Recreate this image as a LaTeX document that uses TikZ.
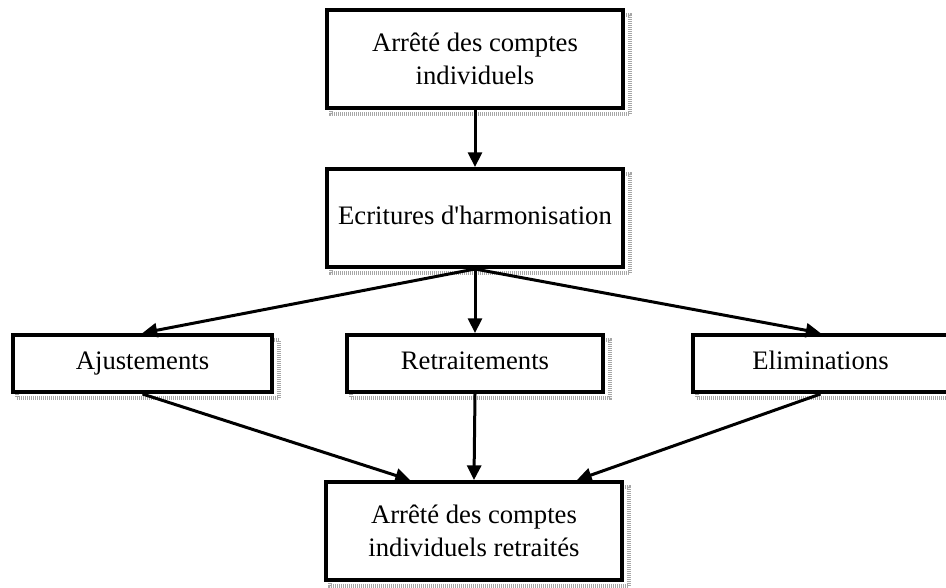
\documentclass[tikz,border=0pt]{standalone}
\usepackage{fontspec}
\setmainfont{Liberation Serif}
\usetikzlibrary{arrows.meta,calc}
\begin{document}
\begin{tikzpicture}[x=0.75pt,y=-0.75pt,
  box/.style={draw=black,line width=3pt,fill=white,inner sep=0pt,align=center,
    font=\fontsize{20}{25}\selectfont},
  one/.style={box,text height=14pt,text depth=4.5pt},
  shad/.style={draw=gray!70,line width=3pt,dash pattern=on 0.75pt off 0.75pt},
  arr/.style={line width=2.25pt,-{Triangle[length=11pt,width=10.5pt]}}]
\clip (0,0) rectangle (946,588);
\useasboundingbox (0,0) rectangle (946,588);
% shadows (drawn first, covered by white boxes)
\draw[shad] (331,15) rectangle (630,114);
\draw[shad] (331,174) rectangle (630,273);
\draw[shad] (17,340) rectangle (279,398);
\draw[shad] (351,340) rectangle (610,398);
\draw[shad] (697,340) rectangle (953,398);
\draw[shad] (330,487) rectangle (629,586);
% boxes
\node[box,minimum width=222pt,minimum height=73.5pt] (top) at (475,59) {Arrêté des comptes\\individuels};
\node[one,minimum width=222pt,minimum height=73.5pt] (har) at (475,218) {Ecritures d\textquotesingle harmonisation};
\node[one,minimum width=194.25pt,minimum height=42.75pt] (aj) at (142.5,363.5) {Ajustements};
\node[one,minimum width=192pt,minimum height=42.75pt] (re) at (475,363.5) {Retraitements};
\node[one,minimum width=191.25pt,minimum height=42.75pt] (el) at (820.5,363.5) {Eliminations};
\node[box,minimum width=222pt,minimum height=73.5pt] (bt) at (474,531) {Arrêté des comptes\\individuels retraités};
% connectors
\draw[arr] (top.south) -- (har.north);
\draw[arr] (har.south) -- (aj.north);
\draw[arr] (har.south) -- (re.north);
\draw[arr] (har.south) -- (el.north);
\draw[arr] (aj.south) -- ($(bt.north)+(-64,0)$);
\draw[arr] (re.south) -- (bt.north);
\draw[arr] (el.south) -- ($(bt.north)+(103,0)$);
\end{tikzpicture}
\end{document}
